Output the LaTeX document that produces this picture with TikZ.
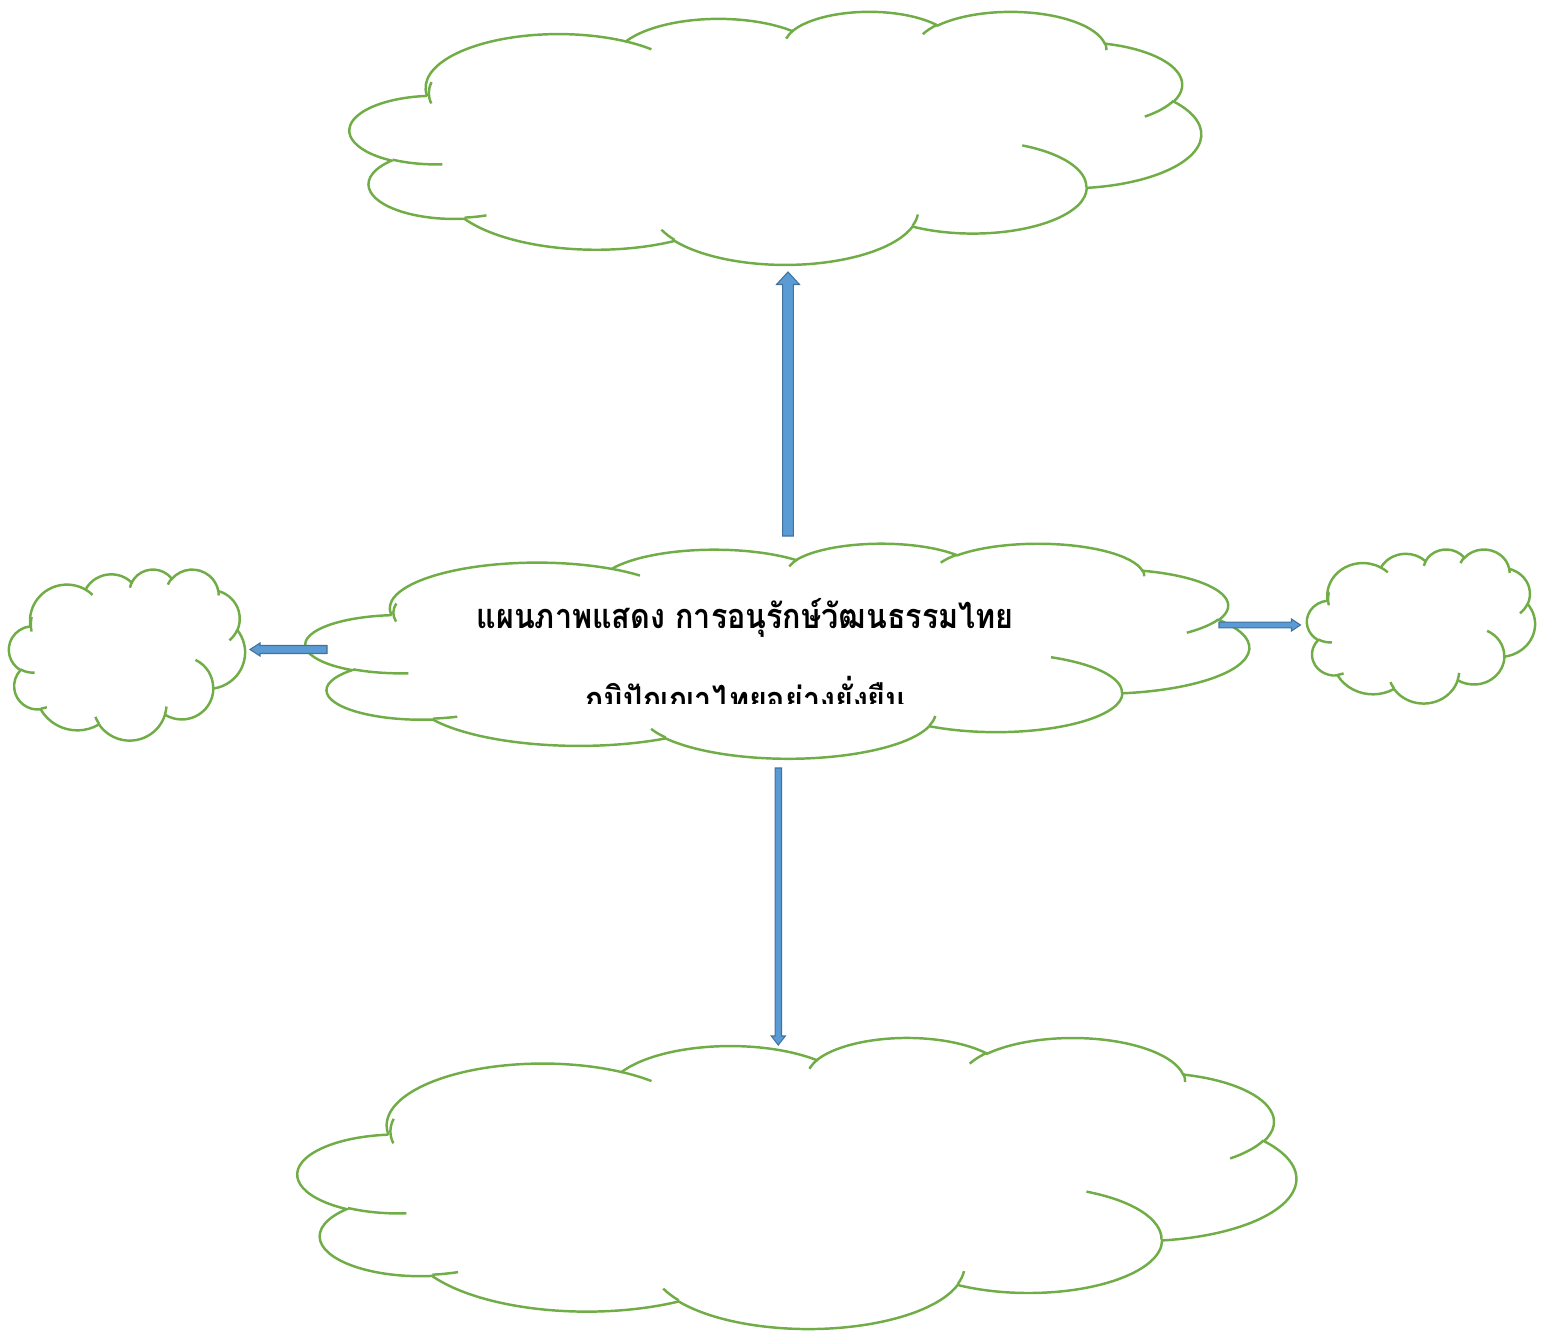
\documentclass[tikz,border=0pt]{standalone}
\usepackage{fontspec}
\newfontfamily\thaifont[Script=Thai, FakeStretch=0.89]{Loma}
\usetikzlibrary{calc,fit}

\definecolor{cloudgreen}{HTML}{70AD47}
\definecolor{arrowfill}{HTML}{5B9BD5}
\definecolor{arrowline}{HTML}{41719C}

\tikzset{
  cloudline/.style={draw=cloudgreen, line width=1.4pt},
  cloudbox/.style={inner sep=0pt, outer sep=0pt},
  blockarr/.style={fill=arrowfill, draw=arrowline, line width=0.6pt},
  thaititle/.style={font=\thaifont\bfseries\fontsize{19.5}{24}\selectfont, inner sep=0pt, anchor=base}
}

% one bump of the outline: wR, hR, start and sweep (visual angles)
\newcommand\carc[4]{arc[start angle={atan2(#1*sin(#3),#2*cos(#3))}, delta angle={mod(atan2(#1*sin(#3+#4),#2*cos(#3+#4))-atan2(#1*sin(#3),#2*cos(#3))+720,360)}, x radius=#1, y radius=#2]}

% cloud: name, left, top, right, bottom
\newcommand\cloud[5]{%
  \node[cloudbox, fit={(#2,#3) (#4,#5)}] (#1) {};
  \begin{scope}[shift={(#2,#3)}, xscale={(#4-#2)/432}, yscale={(#5-#3)/432}]
    \draw[cloudline] (39.00,143.70) \carc{67.53}{91.90}{-190.4875}{123.7805}
      \carc{53.33}{72.67}{-144.1024}{89.9452}
      \carc{43.65}{59.45}{-145.8079}{99.7230}
      \carc{48.57}{65.95}{-130.9861}{117.2417}
      \carc{53.33}{72.73}{-78.7089}{109.0269}
      \carc{67.75}{92.20}{-46.2673}{130.2690}
      \carc{57.85}{78.67}{0.6250}{114.0333}
      \carc{67.52}{92.15}{22.4516}{115.1726}
      \carc{77.20}{105.43}{66.2426}{75.7110}
      \carc{43.60}{59.18}{-274.9421}{146.7356}
      \carc{43.45}{59.45}{-246.8285}{152.5189} -- cycle;
    \draw[cloudline]
      (46.93,261.77) \carc{43.45}{59.45}{86.742}{26.4295}
      (69.28,348.99) \carc{43.60}{59.18}{73.6105}{11.4475}
      (164.78,390.90) \carc{67.52}{92.15}{137.6242}{14.0811}
      (288.27,347.51) \carc{67.52}{92.15}{6.4533}{15.9984}
      (341.29,229.54) \carc{57.85}{78.67}{-70.2924}{70.9174}
      (417.98,153.54) \carc{53.33}{72.73}{30.3180}{27.7515}
      (383.24,54.26) \carc{48.57}{65.95}{-13.7443}{14.8589}
      (290.78,39.52) \carc{48.57}{65.95}{-149.1815}{18.1954}
      (221.41,47.20) \carc{43.65}{59.45}{-163.4943}{17.6864}
      (140.00,51.92) \carc{67.53}{91.90}{-66.7070}{12.3194}
      (41.27,157.89) \carc{67.53}{91.90}{165.0080}{30.7634};
  \end{scope}
}

% block arrow: from, to, half shaft, half head, head length
\newcommand\blockarrow[5]{%
  \coordinate (#1#2) at ($(#2)!#5!(#1)$);
  \draw[blockarr] ($(#1)!#3!90:(#2)$) -- ($(#1#2)!#3!-90:(#1)$)
    -- ($(#1#2)!#4!-90:(#1)$) -- (#2) -- ($(#1#2)!#4!90:(#1)$)
    -- ($(#1#2)!#3!90:(#1)$) -- ($(#1)!#3!-90:(#2)$) -- cycle;
}

\begin{document}
\begin{tikzpicture}[x=0.02cm, y=-0.02cm]
 \useasboundingbox (0,0) rectangle (1543,1331);

 \cloud{top}{350}{11}{1201}{264}
 \cloud{mid}{306}{543}{1249}{758}
 \cloud{lft}{9}{569}{245}{740}
 \cloud{rgt}{1307}{549}{1535}{703}
 \cloud{bot}{298}{1037}{1296}{1328}

 \node[thaititle] (title) at (745,628) {แผนภาพแสดง การอนุรักษ์วัฒนธรรมไทย};
 \begin{scope}
  \clip (400,660) rectangle (1100,703.5);
  \node[thaititle] (sub) at (745,711) {ภูมิปัญญาไทยอย่างยั่งยืน};
 \end{scope}

 \coordinate (u1) at (788,536);
 \coordinate (u2) at (788,272);
 \coordinate (d1) at (778.3,768);
 \coordinate (d2) at (778.3,1045);
 \coordinate (l1) at (327,649.5);
 \coordinate (l2) at (250,649.5);
 \coordinate (r1) at (1219,625);
 \coordinate (r2) at (1300.5,625);

 \blockarrow{u1}{u2}{0.106cm}{0.23cm}{0.25cm}
 \blockarrow{d1}{d2}{0.064cm}{0.14cm}{0.18cm}
 \blockarrow{l1}{l2}{0.08cm}{0.13cm}{0.2cm}
 \blockarrow{r1}{r2}{0.056cm}{0.12cm}{0.18cm}
\end{tikzpicture}
\end{document}
